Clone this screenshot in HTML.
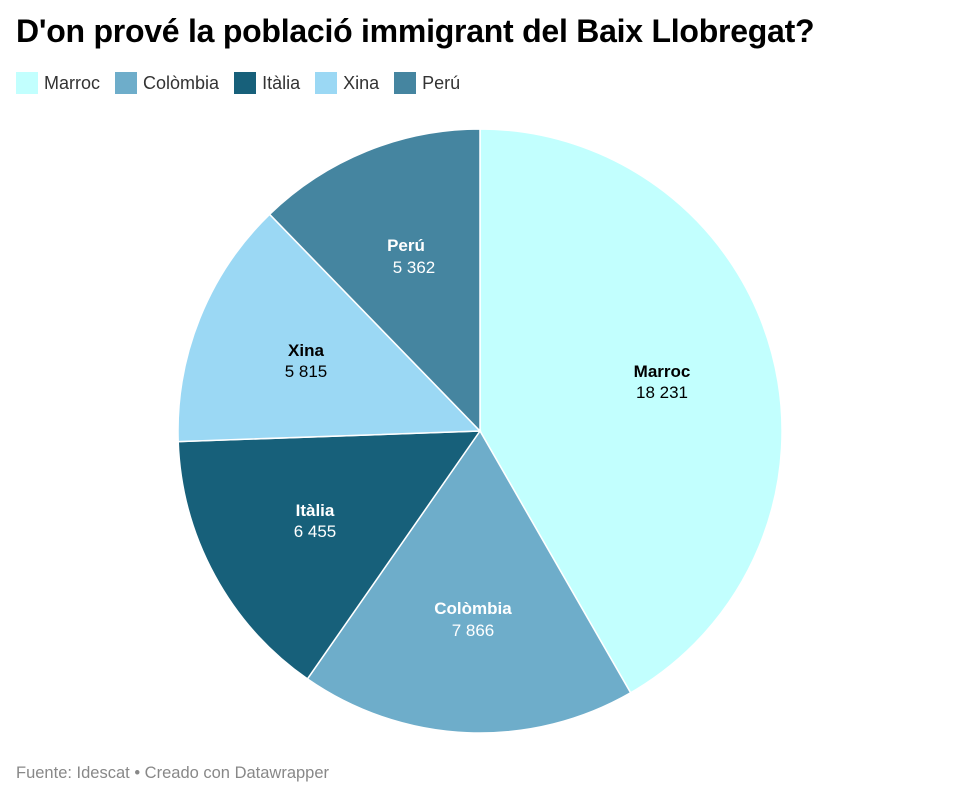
<!DOCTYPE html>
<html><head><meta charset="utf-8"><style>
body{margin:0;background:#fff;width:961px;height:800px;overflow:hidden;font-family:"Liberation Sans",Arial,sans-serif}
h1{position:absolute;left:16px;top:13px;margin:0;font-size:32px;font-weight:bold;color:#000;letter-spacing:-0.25px;white-space:nowrap}
.leg{position:absolute;top:72px;left:16px;display:flex;font-size:18px;color:#333;align-items:center;white-space:nowrap}
.leg span{display:inline-block;width:22px;height:22px;margin-right:6px;vertical-align:middle}
.leg div{margin-right:15px;display:flex;align-items:center}
.foot{position:absolute;left:16px;top:764px;font-size:16.5px;color:#888;white-space:nowrap}
</style></head><body>
<h1>D'on prové la població immigrant del Baix Llobregat?</h1>
<div class="leg">
<div><span style="background:#c2fffe"></span>Marroc</div>
<div><span style="background:#6eadca"></span>Colòmbia</div>
<div><span style="background:#17607a"></span>Itàlia</div>
<div><span style="background:#9bd8f4"></span>Xina</div>
<div><span style="background:#4585a0"></span>Perú</div>
</div>
<svg width="961" height="800" style="position:absolute;left:0;top:0" font-family="Liberation Sans, Arial, sans-serif" font-size="17" text-anchor="middle">
<g stroke="#fff" stroke-width="1.5">
<path d="M480,431 L480,129 A302,302 0 0 1 630.6,692.8 Z" fill="#c2fffe"/>
<path d="M480,431 L630.6,692.8 A302,302 0 0 1 307.4,678.9 Z" fill="#6eadca"/>
<path d="M480,431 L307.4,678.9 A302,302 0 0 1 178.2,441.6 Z" fill="#17607a"/>
<path d="M480,431 L178.2,441.6 A302,302 0 0 1 269.6,214.3 Z" fill="#9bd8f4"/>
<path d="M480,431 L269.6,214.3 A302,302 0 0 1 480,129 Z" fill="#4585a0"/>
</g>
<text x="662" y="377" font-weight="bold" fill="#000">Marroc</text>
<text x="662" y="398" fill="#000">18 231</text>
<text x="473" y="614" font-weight="bold" fill="#fff">Colòmbia</text>
<text x="473" y="636" fill="#fff">7 866</text>
<text x="315" y="516" font-weight="bold" fill="#fff">Itàlia</text>
<text x="315" y="537" fill="#fff">6 455</text>
<text x="306" y="356" font-weight="bold" fill="#000">Xina</text>
<text x="306" y="377" fill="#000">5 815</text>
<text x="406" y="251" font-weight="bold" fill="#fff">Perú</text>
<text x="414" y="273" fill="#fff">5 362</text>
</svg>
<div class="foot">Fuente: Idescat • Creado con Datawrapper</div>
</body></html>
